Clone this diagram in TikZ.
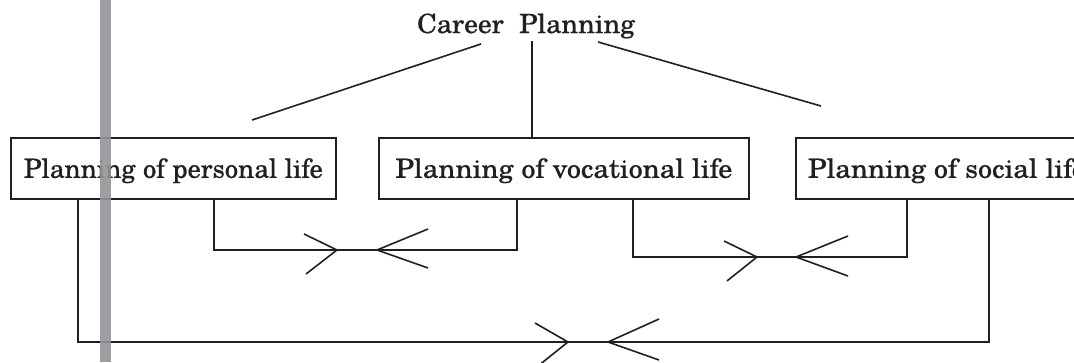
\documentclass[tikz,border=0pt]{standalone}
\usepackage{fontspec}
\setmainfont{TeX Gyre Schola}[FakeBold=0.6]
\usepackage{graphicx}
\definecolor{ink}{HTML}{231F20}
\definecolor{bar}{HTML}{939598}
\newsavebox\fitbox
\newcommand\fitw[2]{\sbox\fitbox{#2}\pgfmathsetmacro\fitr{#1/\the\wd\fitbox}\scalebox{\fitr}[1]{\usebox\fitbox}}
\begin{document}
\sbox\fitbox{\fontsize{26.5}{30}\selectfont Planning of vocational life}%
\pgfmathsetmacro\rtwo{337/\the\wd\fitbox}%
\begin{tikzpicture}[x=1pt,y=-1pt,
  txt/.style={font=\fontsize{26.5}{30}\selectfont, text=ink, inner sep=0pt},
  box/.style={txt, draw=ink, line width=1.6pt, minimum height=61pt, text height=19pt, text depth=0pt, anchor=north west},
  conn/.style={draw=ink, line width=1.6pt},
  greybar/.style={fill=bar, opacity=0.9}]
\useasboundingbox (0,0) rectangle (1074,362);
\clip (0,0) rectangle (1074,362);
% title
\node[txt, anchor=base] (cp) at (526,33) {\fitw{218}{Career\ \ Planning}};
% boxes
\node[box, minimum width=325pt] (p1) at (10,137) {\fitw{299}{Planning of personal life}};
\node[box, minimum width=370pt] (p2) at (378,137) {\fitw{337}{Planning of vocational life}};
\node[box, inner xsep=12pt] (p3) at (795,137) {\scalebox{\rtwo}[1]{Planning of social life}};
% tree lines
\coordinate (cl) at (481,44);
\coordinate (el) at (252,120);
\coordinate (cm) at (532,41);
\coordinate (cr) at (598,42);
\coordinate (er) at (821,106);
\draw[conn] (cl) -- (el);
\draw[conn] (cm) -- (p2.north -| cm);
\draw[conn] (cr) -- (er);
% connector x positions
\coordinate (x1a) at (214,0);
\coordinate (x2a) at (517,0);
\coordinate (x2b) at (633,0);
\coordinate (x3a) at (907,0);
\coordinate (x1b) at (78,0);
\coordinate (x3b) at (989,0);
\draw[conn] (p1.south -| x1a) -- (214,250) -- (517,250) -- (p2.south -| x2a);
\draw[conn] (p2.south -| x2b) -- (633,257) -- (907,257) -- (p3.south -| x3a);
\draw[conn] (p1.south -| x1b) -- (78,342) -- (989,342) -- (p3.south -| x3b);
% arrow heads
\coordinate (a1r) at (337,250);
\coordinate (a1l) at (377,250);
\coordinate (a2r) at (757,257);
\coordinate (a2l) at (796,257);
\coordinate (a3r) at (568,342);
\coordinate (a3l) at (608,342);
\draw[conn] (a1r) ++(-33,-16) -- (a1r) -- ++(-31,24);
\draw[conn] (a1l) ++(51,-21) -- (a1l) -- ++(51,18);
\draw[conn] (a2r) ++(-33,-16) -- (a2r) -- ++(-30,24);
\draw[conn] (a2l) ++(52,-21) -- (a2l) -- ++(52,19);
\draw[conn] (a3r) ++(-33,-19) -- (a3r) -- ++(-30,24);
\draw[conn] (a3l) ++(51,-23) -- (a3l) -- ++(51,18);
% grey margin bar
\fill[greybar] (100,0) rectangle (110.7,362);
\end{tikzpicture}
\end{document}
